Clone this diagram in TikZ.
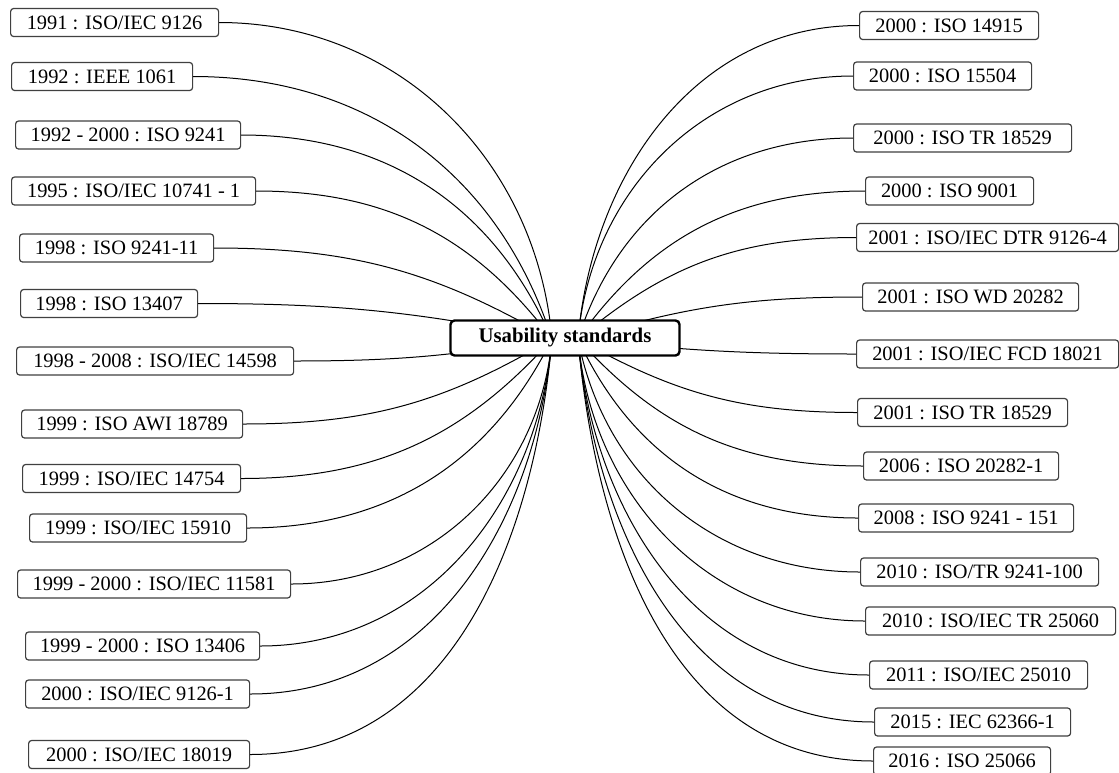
\documentclass[tikz,border=0pt]{standalone}
\usepackage{fontspec}
\setmainfont{Liberation Serif}
\tikzset{
  stdbox/.style={draw=black!75, line width=0.6pt, rounded corners=1.5pt, fill=white,
    minimum height=14pt, inner sep=0pt, anchor=west, font=\fontsize{10.2}{12}\selectfont},
  hubbox/.style={draw=black, line width=1.2pt, rounded corners=2pt, fill=white,
    minimum width=114.5pt, minimum height=17.5pt, font=\fontsize{10.4}{12}\selectfont\bfseries},
  link/.style={line width=0.5pt, black}
}
\begin{document}
\begin{tikzpicture}[x=0.5pt, y=-0.5pt]
  \useasboundingbox (0,0) rectangle (1119,772);
  % meeting points of the curves inside the central box
  \coordinate (hubL) at (552,339);
  \coordinate (hubR) at (578,339);
  % standards on the left
  \foreach \xl/\yc/\w/\txt [count=\i] in {
      10/22.5/208/{1991 : ISO/IEC 9126},
      11/76.5/181/{1992 : IEEE 1061},
      15/135/225/{1992 - 2000 : ISO 9241},
      11/191/244/{1995 : ISO/IEC 10741 - 1},
      19/248/194/{1998 : ISO 9241-11},
      20/303.5/177/{1998 : ISO 13407},
      16/361/277/{1998 - 2008 : ISO/IEC 14598},
      21/424/221/{1999 : ISO AWI 18789},
      22/478.5/218/{1999 : ISO/IEC 14754},
      29/528/217/{1999 : ISO/IEC 15910},
      17/584/273/{1999 - 2000 : ISO/IEC 11581},
      25/646/234/{1999 - 2000 : ISO 13406},
      25/694/224/{2000 : ISO/IEC 9126-1},
      28/754.5/221/{2000 : ISO/IEC 18019}} {
    \node[stdbox, minimum width=\w*0.5pt] (L\i) at (\xl,\yc) {\txt};
    \pgfmathsetmacro{\ang}{180+max(-85,min(85,2*atan2(\yc-339,552-\xl-\w)))}
    \draw[link] (L\i.east) to[out=0, in=\ang] (hubL);
  }
  % standards on the right
  \foreach \xl/\yc/\w/\txt [count=\i] in {
      859/25.5/179/{2000 : ISO 14915},
      853/76/178/{2000 : ISO 15504},
      853/138/218/{2000 : ISO TR 18529},
      865/191/168/{2000 : ISO 9001},
      856/237.5/262/{2001 : ISO/IEC DTR 9126-4},
      862/297/216/{2001 : ISO WD 20282},
      856/354/262/{2001 : ISO/IEC FCD 18021},
      857/412.5/210/{2001 : ISO TR 18529},
      863/466/195/{2006 : ISO 20282-1},
      858/518/215/{2008 : ISO 9241 - 151},
      860/572/238/{2010 : ISO/TR 9241-100},
      865/621/250/{2010 : ISO/IEC TR 25060},
      869/675/218/{2011 : ISO/IEC 25010},
      874/722/196/{2015 : IEC 62366-1},
      873/761/177/{2016 : ISO 25066}} {
    \node[stdbox, minimum width=\w*0.5pt] (R\i) at (\xl,\yc) {\txt};
    \pgfmathsetmacro{\ang}{-max(-85,min(85,2*atan2(\yc-339,\xl-578)))}
    \draw[link] (R\i.west) to[out=180, in=\ang] (hubR);
  }
  % central box drawn last so it covers the curve ends
  \node[hubbox] (hub) at (565,338) {Usability standards};
\end{tikzpicture}
\end{document}
